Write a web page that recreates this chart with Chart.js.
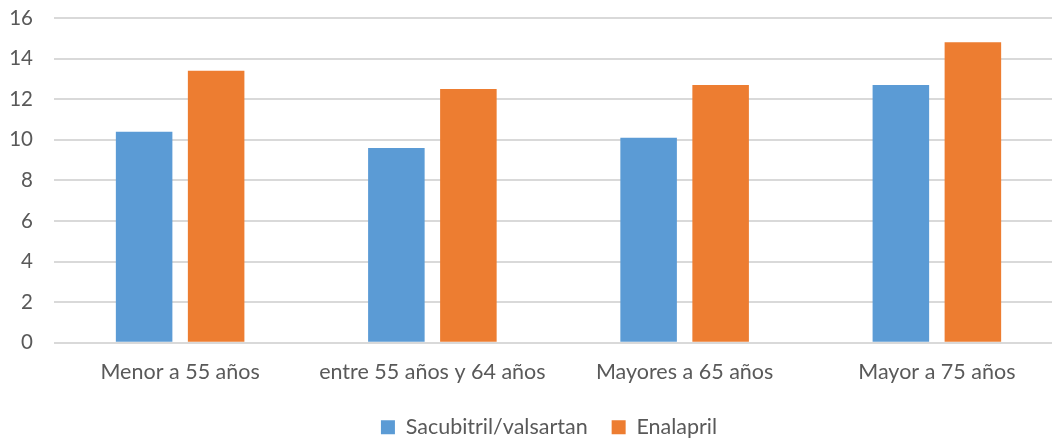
<!DOCTYPE html>
<html>
<head>
<meta charset="utf-8">
<script src="https://cdn.jsdelivr.net/npm/chart.js@4.4.0/dist/chart.umd.min.js"></script>
<style>
html,body{margin:0;padding:0;background:#fff;overflow:hidden;}
#wrap{width:1052px;height:441px;overflow:hidden;position:relative;}
#box{width:1100px;height:448px;position:absolute;left:0;top:0;}
</style>
</head>
<body>
<div id="wrap"><div id="box"><canvas id="c"></canvas></div></div>
<script>
const categories = ["Menor a 55 años", "entre 55 años y 64 años", "Mayores a 65 años", "Mayor a 75 años"];
const sacubitrilValues = [10.4, 9.6, 10.1, 12.7];
const enalaprilValues = [13.4, 12.5, 12.7, 14.8];
const seriesNames = ["Sacubitril/valsartan", "Enalapril"];
const yTicks = [0, 2, 4, 6, 8, 10, 12, 14, 16];

const FONT = "Lato, 'Open Sans', sans-serif";
const TXT = "#595959";

const legendShift = {
  id: 'legendShift',
  afterLayout(chart) {
    if (chart.legend) { chart.legend.left += 17.5; chart.legend.right += 17.5; }
  }
};

new Chart(document.getElementById('c'), {
  type: 'bar',
  data: {
    labels: categories,
    datasets: [
      { label: seriesNames[0], data: sacubitrilValues, backgroundColor: '#5B9BD5', barPercentage: 0.785, categoryPercentage: 0.571 },
      { label: seriesNames[1], data: enalaprilValues, backgroundColor: '#ED7D31', barPercentage: 0.785, categoryPercentage: 0.571 }
    ]
  },
  plugins: [legendShift],
  options: {
    responsive: true,
    maintainAspectRatio: false,
    animation: false,
    layout: { padding: { top: 18, right: 37, left: 0, bottom: 0 } },
    plugins: {
      tooltip: { enabled: false },
      legend: {
        position: 'bottom',
        labels: {
          color: TXT,
          font: { family: FONT, size: 21.5 },
          boxWidth: 14, boxHeight: 14,
          padding: 24
        }
      }
    },
    scales: {
      x: {
        afterFit(scale) { scale.height = scale.height - 8; },
        grid: { display: false, drawTicks: false },
        border: { display: false },
        ticks: { color: TXT, font: { family: FONT, size: 21.5 }, padding: 16, maxRotation: 0 }
      },
      y: {
        min: 0, max: 16,
        afterFit(scale) { scale.width = 54; scale.paddingTop = 0; scale.paddingBottom = 0; },
        afterBuildTicks(scale) { scale.ticks = yTicks.map(v => ({ value: v })); },
        grid: { color: '#d9d9d9', lineWidth: 2, drawTicks: false },
        border: { display: false },
        ticks: { color: TXT, font: { family: FONT, size: 20.5 }, padding: 21 }
      }
    }
  }
});
</script>
</body>
</html>
